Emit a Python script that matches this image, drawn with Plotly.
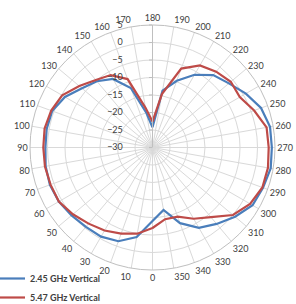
import plotly.graph_objects as go

angles = list(range(0, 360, 10)) + [0]

blue_245 = [-9.0, -4.0, -1.5, -0.6, -0.4, 0.2, 0.9, 1.2, 1.0, 0.6,
            0.7, 0.5, -1.1, -3.7, -5.3, -7.4, -11.9, -20.0, -24.2, -13.5,
            -9.7, -6.0, -3.0, -1.5, 0.8, 3.0, 4.1, 4.1, 4.3, 3.6,
            3.0, 0.8, -1.5, -3.5, -7.0, -11.9]
red_547 = [-7.0, -5.0, -3.8, -2.6, -1.6, -0.3, 0.9, 1.0, 1.2, 1.2,
           1.3, 0.8, -0.2, -2.7, -4.8, -6.1, -9.2, -18.5, -22.6, -14.5,
           -6.0, -2.9, -1.7, -0.8, -1.2, 0.9, 3.1, 3.2, 3.5, 3.4,
           2.2, 0.0, -4.0, -6.5, -9.0, -9.2]

blue_245 = blue_245 + [blue_245[0]]
red_547 = red_547 + [red_547[0]]

series_names = ["2.45 GHz Vertical", "5.47 GHz Vertical"]
series_colors = ["#4A7EBB", "#BE4B48"]

fig = go.Figure()
for name, vals, col in zip(series_names, [blue_245, red_547], series_colors):
    fig.add_trace(go.Scatterpolar(
        r=vals, theta=angles, mode="lines", name=name,
        line=dict(color=col, width=2.2),
    ))

tick_font = dict(family="Lato, Liberation Sans, Arial", size=9, color="#404040")

fig.update_layout(
    width=296, height=304,
    margin=dict(l=30, r=21, t=25, b=34, autoexpand=False),
    paper_bgcolor="white",
    plot_bgcolor="white",
    showlegend=True,
    legend=dict(
        xref="paper", yref="paper",
        x=-40 / 245, y=(270 - 264) / 245, xanchor="left", yanchor="top",
        orientation="v",
        font=dict(family="Lato, Liberation Sans, Arial", size=9, color="#404040", weight="bold"),
        bgcolor="rgba(0,0,0,0)", tracegroupgap=0, itemwidth=30,
    ),
    polar=dict(
        bgcolor="white",
        angularaxis=dict(
            rotation=270, direction="clockwise",
            tickmode="array", tickvals=list(range(0, 360, 10)),
            ticktext=[str(a) for a in range(0, 360, 10)],
            showgrid=True, gridcolor="#d9d9d9", gridwidth=1,
            showline=True, linecolor="#bfbfbf", linewidth=1,
            ticks="", tickfont=tick_font,
        ),
        radialaxis=dict(
            range=[-30, 5], dtick=5, tick0=-30,
            angle=90, side="counterclockwise",
            showgrid=True, gridcolor="#d9d9d9", gridwidth=1,
            showline=True, linecolor="#bfbfbf", linewidth=1,
            ticks="outside", ticklen=3, tickcolor="#bfbfbf",
            tickfont=tick_font, tickangle=90,
            ticksuffix="\u00a0" * 10,
        ),
    ),
)

fig.write_html("out.html")
